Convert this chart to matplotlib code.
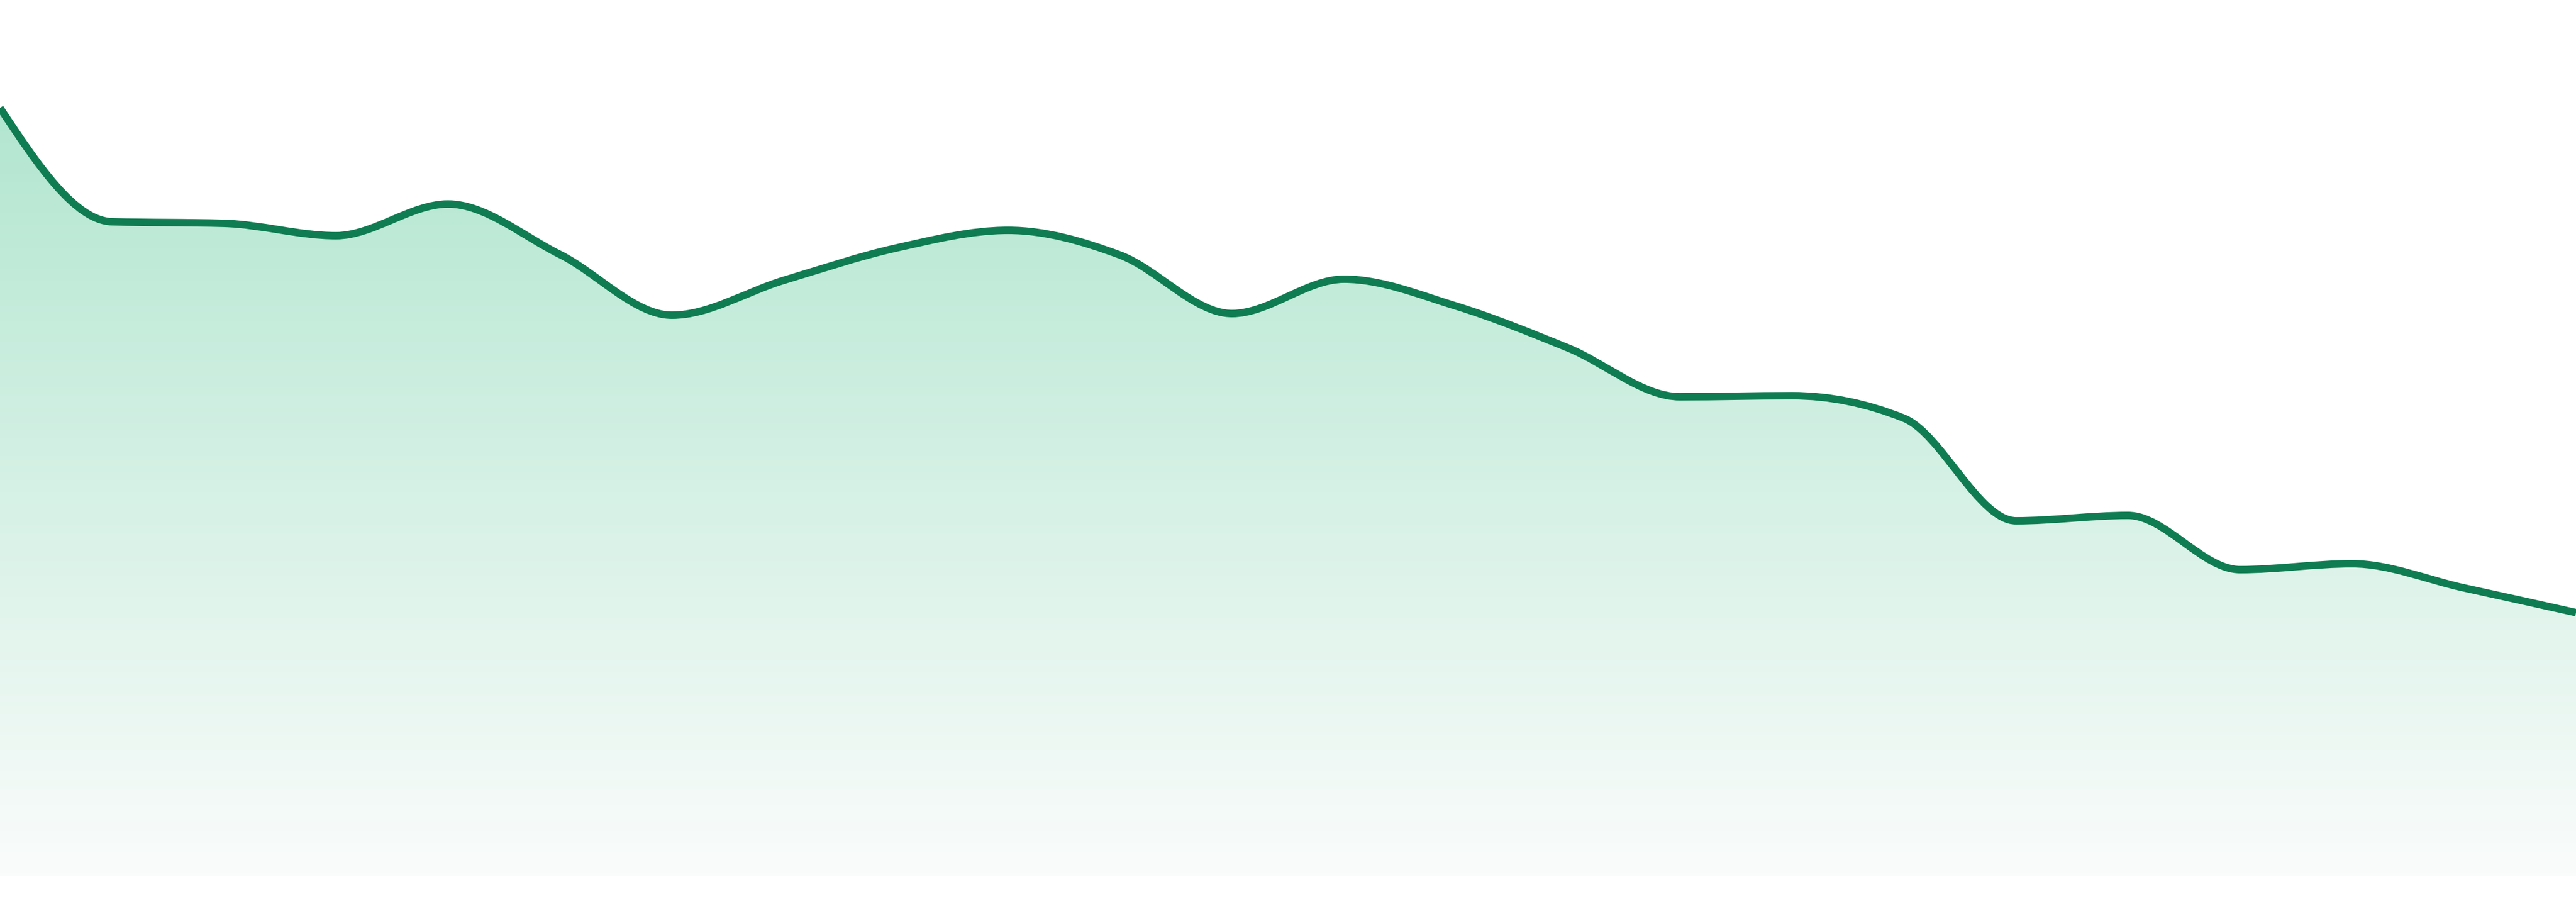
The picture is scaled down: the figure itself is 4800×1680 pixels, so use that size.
import numpy as np
import matplotlib
matplotlib.use("Agg")
import matplotlib.pyplot as plt
from matplotlib.path import Path
from matplotlib.patches import PathPatch
from matplotlib.colors import LinearSegmentedColormap

# ── data ────────────────────────────────────────────────────────────────────
idx = list(range(24))
values = [143.1, 121.9, 121.6, 119.3, 125.2, 115.8, 104.5, 111.0,
          117.0, 120.3, 115.7, 104.8, 111.2, 106.2, 98.4, 89.3,
          89.5, 85.3, 66.2, 67.2, 57.1, 58.2, 53.7, 49.1]

LINE = "#107c52"
FILL_TOP = "#b2e6d0"
FILL_BOT = "#fafcfb"


def monotone_tangents(x, y):
    # d3 curveMonotoneX slopes
    n = len(x)
    h = np.diff(x)
    s = np.diff(y) / h
    t = np.zeros(n)
    for i in range(1, n - 1):
        s0, s1 = s[i - 1], s[i]
        p = (s0 * h[i] + s1 * h[i - 1]) / (h[i - 1] + h[i])
        t[i] = (np.sign(s0) + np.sign(s1)) * min(abs(s0), abs(s1), 0.5 * abs(p))
    t[0] = (3 * s[0] - t[1]) / 2
    t[-1] = (3 * s[-1] - t[-2]) / 2
    return t


def curve_vertices(x, y):
    t = monotone_tangents(x, y)
    verts = [(x[0], y[0])]
    codes = [Path.MOVETO]
    for i in range(len(x) - 1):
        dx = (x[i + 1] - x[i]) / 3
        verts += [(x[i] + dx, y[i] + dx * t[i]),
                  (x[i + 1] - dx, y[i + 1] - dx * t[i + 1]),
                  (x[i + 1], y[i + 1])]
        codes += [Path.CURVE4] * 3
    return verts, codes


x = np.array(idx, dtype=float)
y = np.array(values, dtype=float)

fig = plt.figure(figsize=(48, 16.8), dpi=100)
ax = fig.add_axes([0, 48 / 1680, 1, 1632 / 1680])
ax.set_xlim(x[0], x[-1])
ax.set_ylim(0, 163.2)
ax.axis("off")

verts, codes = curve_vertices(x, y)
line_path = Path(verts, codes)

# area under the curve, gradient fill clipped to it
area_verts = verts + [(x[-1], 0), (x[0], 0), (x[0], y[0])]
area_codes = codes + [Path.LINETO, Path.LINETO, Path.CLOSEPOLY]
area = PathPatch(Path(area_verts, area_codes), facecolor="none", edgecolor="none")
ax.add_patch(area)

cmap = LinearSegmentedColormap.from_list("fade", [FILL_BOT, FILL_TOP])
grad = np.linspace(0, 1, 256).reshape(-1, 1)
img = ax.imshow(grad, cmap=cmap, aspect="auto", origin="lower",
                extent=[x[0], x[-1], 0, y.max()], zorder=1)
img.set_clip_path(area)

ax.add_patch(PathPatch(line_path, facecolor="none", edgecolor=LINE,
                       lw=10, capstyle="butt", joinstyle="round", zorder=2))

fig.savefig("out.png", dpi=100, facecolor="white")
